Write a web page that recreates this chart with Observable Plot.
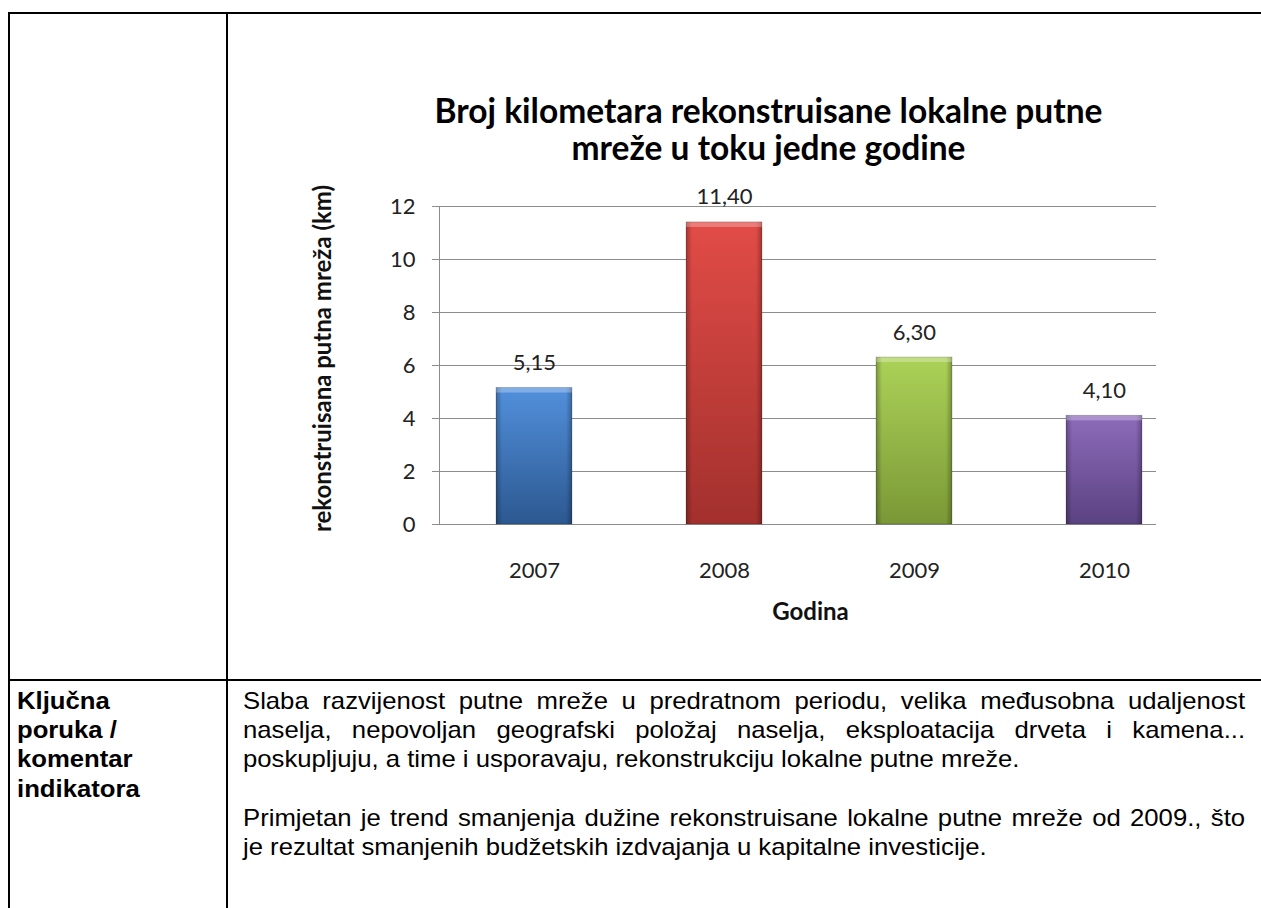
<!DOCTYPE html>
<html>
<head>
<meta charset="utf-8">
<script src="https://cdn.jsdelivr.net/npm/d3@7"></script>
<script src="https://cdn.jsdelivr.net/npm/@observablehq/plot@0.6"></script>
<style>
  html, body { margin: 0; padding: 0; background: #fff; }
  body { width: 1261px; height: 908px; position: relative; overflow: hidden; }
  .ln { position: absolute; background: #000; }
  #chart { position: absolute; left: 229px; top: 14px; }
  .cell { position: absolute; font-family: "Liberation Sans", Arial, sans-serif; font-size: 24px; line-height: 29.2px; color: #000; }
  .cell div { white-space: nowrap; height: 29.2px; transform: scaleX(1.07); transform-origin: 0 0; }
  .cell .j { text-align: justify; text-align-last: justify; white-space: normal; }
  .bold { font-weight: bold; }
</style>
</head>
<body>
<div class="ln" style="left:8px; top:12px; width:1253px; height:2px;"></div>
<div class="ln" style="left:8px; top:12px; width:2px; height:896px;"></div>
<div class="ln" style="left:226px; top:12px; width:2px; height:896px;"></div>
<div class="ln" style="left:8px; top:679px; width:1253px; height:2px;"></div>
<div id="chart"></div>
<div id="leftcell" class="cell bold" style="left:17px; top:686px; width:190px;"></div>
<div id="rightcell" class="cell" style="left:243px; top:686px; width:936.5px;"></div>
<script>
// ---- data ----
const years = ["2007", "2008", "2009", "2010"];
const values = [5.15, 11.40, 6.30, 4.10];
const valueLabels = ["5,15", "11,40", "6,30", "4,10"];
const yTicks = [0, 2, 4, 6, 8, 10, 12];
const barTop = ["#5290dc", "#e24c47", "#acd258", "#8d6bbb"];
const barBottom = ["#2c5890", "#a2302d", "#7a9836", "#5b4281"];
const chartTitle = "Broj kilometara rekonstruisane lokalne putne\nmreže u toku jedne godine";
const yTitle = "rekonstruisana putna mreža (km)";
const xTitle = "Godina";
const leftText = ["Ključna", "poruka /", "komentar", "indikatora"];
const rightText = [
  ["Slaba razvijenost putne mreže u predratnom periodu, velika međusobna udaljenost", true],
  ["naselja, nepovoljan geografski položaj naselja, eksploatacija drveta i kamena...", true],
  ["poskupljuju, a time i usporavaju, rekonstrukciju lokalne putne mreže.", false],
  ["", false],
  ["Primjetan je trend smanjenja dužine rekonstruisane lokalne putne mreže od 2009., što", true],
  ["je rezultat smanjenih budžetskih izdvajanja u kapitalne investicije.", false]
];

const data = years.map((y, i) => ({year: y, value: values[i], label: valueLabels[i], i}));

const W = 1032, H = 664;
const font = "Lato, 'Open Sans', sans-serif";

function defsMark() {
  const g = d3.create("svg:g");
  const defs = g.append("defs");
  data.forEach((d, i) => {
    const lg = defs.append("linearGradient").attr("id", "g" + i).attr("x1", 0).attr("y1", 0).attr("x2", 0).attr("y2", 1);
    lg.append("stop").attr("offset", "0%").attr("stop-color", barTop[i]);
    lg.append("stop").attr("offset", "100%").attr("stop-color", barBottom[i]);
  });
  const side = defs.append("linearGradient").attr("id", "side").attr("x1", 0).attr("y1", 0).attr("x2", 1).attr("y2", 0);
  side.append("stop").attr("offset", "0%").attr("stop-color", "#000").attr("stop-opacity", 0.28);
  side.append("stop").attr("offset", "8%").attr("stop-color", "#000").attr("stop-opacity", 0.0);
  side.append("stop").attr("offset", "92%").attr("stop-color", "#000").attr("stop-opacity", 0.0);
  side.append("stop").attr("offset", "100%").attr("stop-color", "#000").attr("stop-opacity", 0.28);
  return g.node();
}

function yAxisLine(index, scales) {
  const g = d3.create("svg:g");
  const x = 210.5;
  g.append("line").attr("x1", x).attr("x2", x)
    .attr("y1", scales.y(12)).attr("y2", scales.y(0))
    .attr("stroke", "#8c8c8c").attr("stroke-width", 1);
  return g.node();
}

const chart = Plot.plot({
  width: W,
  height: H,
  marginLeft: 210,
  marginRight: 105,
  marginTop: 192,
  marginBottom: 154,
  style: {background: "transparent", fontFamily: font, overflow: "visible"},
  x: {type: "band", domain: years, range: [210, 970], paddingInner: 0.6, paddingOuter: 0.3, axis: null},
  y: {domain: [0, 12], range: [510, 192], axis: null},
  marks: [
    defsMark,
    Plot.ruleY(yTicks, {stroke: "#8c8c8c", strokeOpacity: 1, strokeWidth: 1}),
    yAxisLine,
    Plot.axisY({ticks: yTicks, tickSize: 7, tickPadding: 17, stroke: "#8c8c8c", strokeOpacity: 1, fill: "#222", fontSize: 22, fontFamily: font, label: null}),
    Plot.barY(data, {x: "year", y: "value", fill: d => "url(#g" + d.i + ")"}),
    Plot.barY(data, {x: "year", y: "value", fill: "url(#side)"}),
    Plot.barY(data, {x: "year", y1: "value", y2: "value", insetBottom: -5, fill: "#fff", fillOpacity: 0.28}),
    Plot.barY(data, {x: "year", y: "value", fill: "none", stroke: "#000", strokeOpacity: 0.18, strokeWidth: 1}),
    Plot.text(data, {x: "year", y: "value", text: "label", dy: -25, fontSize: 22, fill: "#222", fontFamily: font}),
    Plot.axisX({tickSize: 0, tickPadding: 38, fontSize: 22, fill: "#222", fontFamily: font, label: null}),
    Plot.text([xTitle], {frameAnchor: "bottom", lineAnchor: "middle", dx: 12.5, dy: 88, fontSize: 24, fontWeight: "bold", fill: "#111", fontFamily: font}),
    Plot.text([yTitle], {frameAnchor: "left", textAnchor: "middle", lineAnchor: "middle", rotate: -90, dx: -116, dy: -7, fontSize: 24, fontWeight: "bold", fill: "#111", fontFamily: font}),
    Plot.text([chartTitle], {frameAnchor: "top", textAnchor: "middle", lineAnchor: "middle", dx: -29.5, dy: -77, lineHeight: 1.12, fontSize: 33.5, fontWeight: "bold", fill: "#000", fontFamily: font})
  ]
});
document.getElementById("chart").appendChild(chart);

const lc = document.getElementById("leftcell");
leftText.forEach(t => { const d = document.createElement("div"); d.textContent = t; lc.appendChild(d); });
const rc = document.getElementById("rightcell");
rightText.forEach(([t, j]) => {
  const d = document.createElement("div");
  d.textContent = t || "\u00a0";
  if (j) d.className = "j";
  rc.appendChild(d);
});
</script>
</body>
</html>
